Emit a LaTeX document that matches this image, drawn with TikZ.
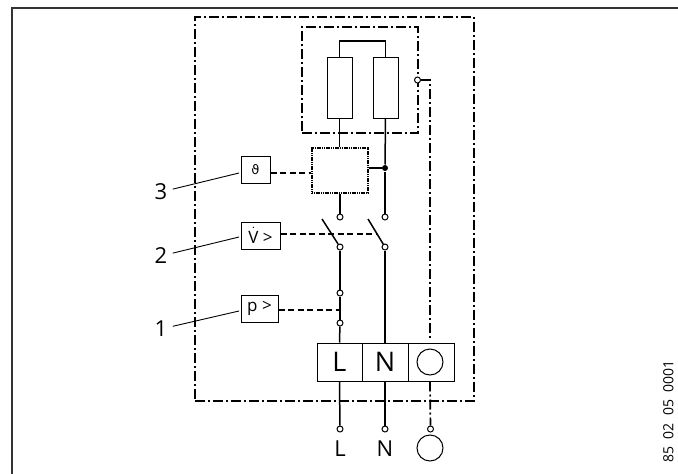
\documentclass[tikz,border=0pt]{standalone}
\usepackage{amsmath}
\usepackage{fontspec}
\setmainfont{Open Sans}
\newfontfamily\symfont{DejaVu Sans}
\usepackage{tikz}

\begin{document}
\begin{tikzpicture}
	[x=1pt, y=-1pt, line width=1pt,
	frameline/.style = {line width=1.7pt, dash pattern=on 10pt off 3pt on 2pt off 3pt},
	wire/.style = {line width=1.5pt},
	ctrl/.style = {line width=1.6pt, dash pattern=on 6pt off 3.5pt},
	part/.style = {draw, minimum height=#1, inner sep=0pt, fill=white},
	res/.style = {draw, fill=white, minimum width=25pt, minimum height=61pt, inner sep=0pt},
	term/.style = {draw, fill=white, minimum height=38pt, inner sep=0pt, font=\fontsize{27}{27}\selectfont},
	open/.style = {draw, circle, fill=white, minimum size=6pt, inner sep=0pt},
	earth/.style = {draw, circle, fill=white, minimum size=26pt, inner sep=0pt},
	num/.style = {inner sep=5pt, font=\fontsize{22}{22}\selectfont},
	lead/.style = {line width=0.9pt}]
	\useasboundingbox (0,0) rectangle (678,474);
	\coordinate (fbottom) at (12,474);
	\coordinate (fcorner) at (12,8);
	\coordinate (fright) at (678,8);
	\draw[line width=1.2pt, black!80] (fbottom) -- (fcorner) -- (fright);

	\node[draw, frameline, minimum width=279pt, minimum height=384pt] (outer) at (334.5,209) {};
	\node[draw, frameline, minimum width=116pt, minimum height=106pt] (inner) at (360,80) {};

	\node[res] (resL) at (339.5,87.5) {};
	\node[res] (resR) at (385.5,87.5) {};
	\coordinate (topjoin) at (362,41);
	\draw[wire] (resL.north) |- (topjoin) -| (resR.north);

	\node[draw, fill=white, line width=2.4pt, dash pattern=on 1.2pt off 0.6pt, minimum width=56pt, minimum height=45pt] (ctrlbox) at (340,170.5) {};
	\node[circle, fill=black, minimum size=6pt, inner sep=0pt] (tap) at (385,168) {};
	\node[open] (outL) at (340,217) {};
	\node[open] (outR) at (385,217) {};
	\node[open] (inL) at (340,247) {};
	\node[open] (inR) at (385,247) {};
	\node[open] (pA) at (340,293) {};
	\node[open] (pB) at (340,323) {};
	\coordinate (bladeL) at (322,219);
	\coordinate (bladeR) at (368,219);
	\coordinate (bladeRm) at (377,234);
	\coordinate (pjoin) at (340,310);

	\node[term, minimum width=45pt] (termL) at (339.5,362) {L};
	\node[term, minimum width=46pt] (termN) at (385,362) {N};
	\node[term, minimum width=46pt] (termE) at (431,362) {};
	\node[earth] (earthA) at (430,362) {};

	\node[open] (lineL) at (340,429) {};
	\node[open] (lineN) at (385,429) {};
	\node[open] (lineE) at (430.5,429) {};
	\node[font=\fontsize{22}{22}\selectfont] (textL) at (340,449) {L};
	\node[font=\fontsize{22}{22}\selectfont] (textN) at (385,449) {N};
	\node[earth] (earthB) at (430,448) {};

	\node[open] (port) at (417.5,80) {};
	\coordinate (portbend) at (430,80);
	\coordinate (portend) at (430,339);

	\node[part=27pt, minimum width=29pt] (tempbox) at (255.5,169.5) {\symfont\fontsize{13}{13}\selectfont ϑ};
	\node[part=27pt, minimum width=39pt] (flowbox) at (260.5,235.5) {\fontsize{17}{17}\selectfont$\dot{\text{V}}$ >};
	\node[part=27pt, minimum width=37pt] (pressbox) at (259.5,308.5) {\fontsize{17}{17}\selectfont p >};

	\node[num] (num3) at (161,192) {3};
	\node[num] (num2) at (161,256) {2};
	\node[num] (num1) at (161,329) {1};
	\coordinate (lead3) at (239,173);
	\coordinate (lead2) at (239,237);
	\coordinate (lead1) at (239,311);
	\draw[lead] (num3) -- (lead3);
	\draw[lead] (num2) -- (lead2);
	\draw[lead] (num1) -- (lead1);

	\draw[wire] (resL.south) -- (ctrlbox.north -| resL);
	\draw[wire] (resR.south) -- (tap);
	\draw[wire] (tap) -- (outR);
	\draw[wire, line width=1.8pt] (ctrlbox.east |- tap) -- (tap);
	\draw[wire] (ctrlbox.south) -- (outL);
	\draw[wire] (bladeL) -- (inL);
	\draw[wire] (bladeR) -- (inR);
	\draw[wire] (inL) -- (pA);
	\draw[wire] (pA) -- (pB);
	\draw[wire] (pB) -- (termL.north);
	\draw[wire] (inR) -- (termN.north);
	\draw[wire] (termL.south) -- (lineL);
	\draw[wire] (termN.south) -- (lineN);

	\draw[ctrl] (tempbox.east |- 0,173) -- (ctrlbox.west |- 0,173);
	\draw[ctrl] (flowbox.east |- bladeRm) -- (bladeRm);
	\draw[ctrl] (pressbox.east |- pjoin) -- (pjoin);

	\draw[frameline] (port) -- (portbend) -- (portend);
	\draw[frameline] (earthA.center |- termE.south) -- (lineE);

	\node[rotate=90, anchor=south west, inner sep=0pt, font=\fontsize{14}{14}\selectfont] (docnum) at (674,463) {\spaceskip=7.3pt\relax 85 02 05 0001};
\end{tikzpicture}
\end{document}
